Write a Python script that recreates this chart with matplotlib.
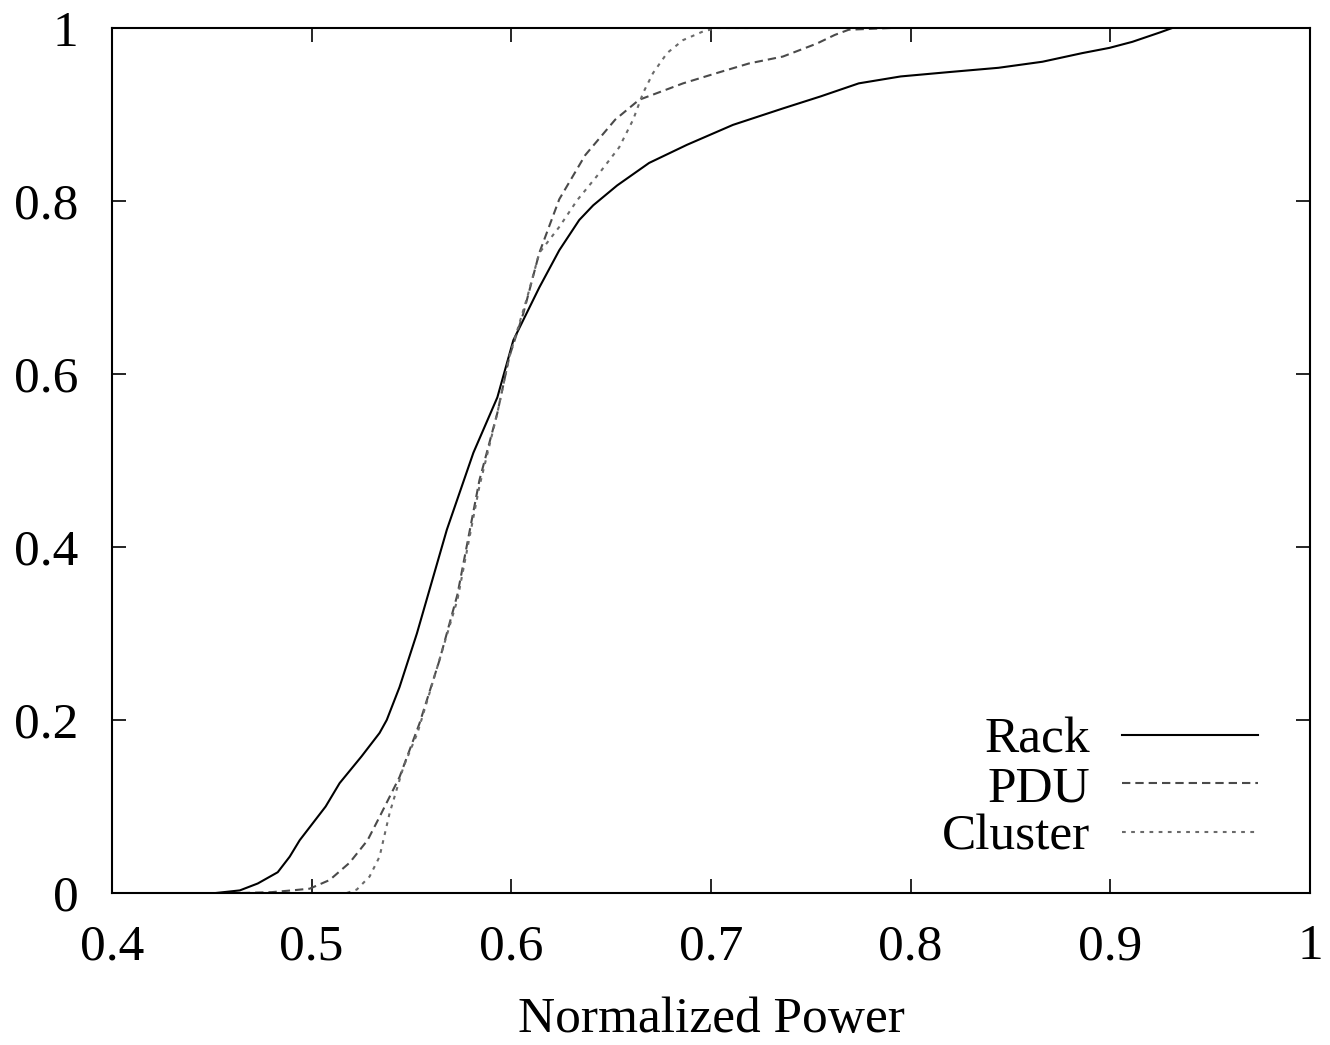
import matplotlib
matplotlib.use("Agg")
import matplotlib.pyplot as plt

# ---- data ----
rack_x = [0.452, 0.464, 0.473, 0.483, 0.489, 0.494, 0.499, 0.507, 0.514, 0.525,
          0.534, 0.5376, 0.544, 0.5527, 0.5677, 0.581, 0.593, 0.601, 0.614, 0.624,
          0.634, 0.641, 0.653, 0.669, 0.688, 0.711, 0.736, 0.755, 0.774, 0.795,
          0.819, 0.844, 0.866, 0.886, 0.8995, 0.911, 0.925, 0.931]
rack_y = [0.0, 0.003, 0.011, 0.024, 0.042, 0.061, 0.076, 0.10, 0.127, 0.158,
          0.185, 0.20, 0.238, 0.30, 0.42, 0.509, 0.573, 0.639, 0.70, 0.743,
          0.778, 0.795, 0.818, 0.844, 0.865, 0.888, 0.907, 0.921, 0.936, 0.944,
          0.949, 0.954, 0.961, 0.971, 0.977, 0.984, 0.995, 1.0]

pdu_x = [0.465, 0.48, 0.49, 0.499, 0.509, 0.519, 0.528, 0.534, 0.544, 0.554,
         0.564, 0.573, 0.584, 0.593, 0.599, 0.606, 0.614, 0.624, 0.637, 0.652,
         0.664, 0.686, 0.703, 0.719, 0.736, 0.753, 0.762, 0.769, 0.79]
pdu_y = [0.0, 0.001, 0.003, 0.005, 0.015, 0.035, 0.061, 0.088, 0.134, 0.196,
         0.269, 0.345, 0.477, 0.555, 0.62, 0.67, 0.74, 0.802, 0.853, 0.894,
         0.917, 0.936, 0.948, 0.959, 0.967, 0.982, 0.992, 0.998, 1.0]

cluster_x = [0.5176, 0.5226, 0.529, 0.534, 0.539, 0.546, 0.553, 0.559, 0.566, 0.573,
             0.584, 0.593, 0.599, 0.608, 0.614, 0.624, 0.633, 0.644, 0.654, 0.661,
             0.666, 0.671, 0.678, 0.686, 0.696, 0.703, 0.72]
cluster_y = [0.0, 0.004, 0.019, 0.042, 0.092, 0.146, 0.185, 0.231, 0.285, 0.339,
             0.47, 0.555, 0.62, 0.689, 0.74, 0.77, 0.801, 0.832, 0.862, 0.894,
             0.925, 0.948, 0.971, 0.986, 0.996, 1.0, 1.0]

labels = ["Rack", "PDU", "Cluster"]
x_ticks = [0.4, 0.5, 0.6, 0.7, 0.8, 0.9, 1.0]
x_tick_labels = ["0.4", "0.5", "0.6", "0.7", "0.8", "0.9", "1"]
y_ticks = [0.0, 0.2, 0.4, 0.6, 0.8, 1.0]
y_tick_labels = ["0", "0.2", "0.4", "0.6", "0.8", "1"]
x_label = "Normalized Power"

# ---- style ----
plt.rcParams['font.family'] = ['Liberation Serif', 'DejaVu Serif']
FS = 37

fig = plt.figure(figsize=(13.3, 10.45), dpi=100)
ax = fig.add_axes([112 / 1330, 1 - 893 / 1045, (1310 - 112) / 1330, (893 - 28) / 1045])

ax.plot(rack_x, rack_y, color='black', lw=1.5, label=labels[0])
ax.plot(pdu_x, pdu_y, color='#4a4a4a', lw=1.5, dashes=(4, 2.4), label=labels[1])
ax.plot(cluster_x, cluster_y, color='#6a6a6a', lw=1.5, dashes=(1.8, 2.6), label=labels[2])

ax.set_xlim(0.4, 1.0)
ax.set_ylim(0.0, 1.0)
ax.set_xticks(x_ticks)
ax.set_xticklabels(x_tick_labels)
ax.set_yticks(y_ticks)
ax.set_yticklabels(y_tick_labels)
ax.tick_params(direction='in', length=10, width=1.2, top=True, right=True,
               labelsize=FS, colors='black')
ax.tick_params(axis='x', pad=22)
ax.tick_params(axis='y', pad=24)
for s in ax.spines.values():
    s.set_linewidth(1.5)
ax.set_xlabel(x_label, fontsize=FS, labelpad=19)

leg = ax.legend(loc='lower right', bbox_to_anchor=((1258 - 112) / 1198, 0.037),
                frameon=False, markerfirst=False, fontsize=FS,
                handlelength=2.64, handletextpad=0.62, labelspacing=0.03,
                borderpad=0, borderaxespad=0)

fig.savefig("out.png", dpi=100)
